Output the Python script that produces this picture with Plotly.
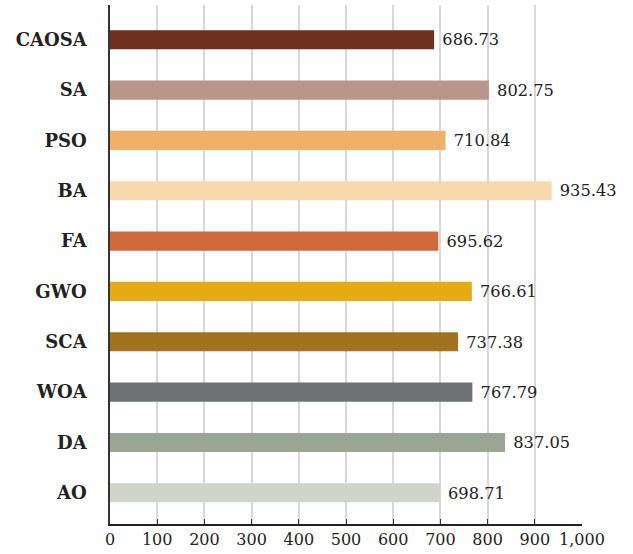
import plotly.graph_objects as go

algorithms = ["CAOSA", "SA", "PSO", "BA", "FA", "GWO", "SCA", "WOA", "DA", "AO"]
values = [686.73, 802.75, 710.84, 935.43, 695.62, 766.61, 737.38, 767.79, 837.05, 698.71]
colors = ["#6e2f1c", "#b9958a", "#efb06a", "#f8d9ae", "#cf6a3c",
          "#e5ab12", "#a2731e", "#6e7272", "#9aa593", "#d0d4cb"]
x_ticks = [0, 100, 200, 300, 400, 500, 600, 700, 800, 900, 1000]

serif = "DejaVu Serif"

fig = go.Figure(go.Bar(
    x=values,
    y=algorithms,
    orientation="h",
    marker=dict(color=colors, line=dict(width=0)),
    width=0.38,
    text=values,
    texttemplate=" %{x:.2f}",
    textposition="outside",
    textfont=dict(family=serif, size=17, color="#222222"),
    cliponaxis=False,
))

fig.update_layout(
    width=633,
    height=554,
    margin=dict(l=110, r=51, t=5, b=27),
    paper_bgcolor="white",
    plot_bgcolor="white",
    showlegend=False,
    font=dict(family=serif, color="#222222"),
)

fig.update_xaxes(
    range=[0, 1000],
    tickvals=x_ticks,
    tickformat=",",
    showgrid=True,
    gridcolor="#d8d8d8",
    gridwidth=1.5,
    zeroline=False,
    showline=True,
    linecolor="#222222",
    linewidth=1.5,
    ticks="inside",
    ticklen=5,
    tickwidth=1.2,
    tickcolor="#333333",
    tickfont=dict(family=serif, size=16, color="#222222"),
)

fig.update_yaxes(
    categoryorder="array",
    categoryarray=algorithms,
    autorange=False,
    range=[9.62, -0.69],
    showgrid=False,
    zeroline=False,
    showline=True,
    linecolor="#333333",
    linewidth=1.5,
    ticks="",
    ticklabelstandoff=18,
    tickfont=dict(family=serif, size=18, color="#222222", weight="bold"),
)

fig.write_html("out.html")
